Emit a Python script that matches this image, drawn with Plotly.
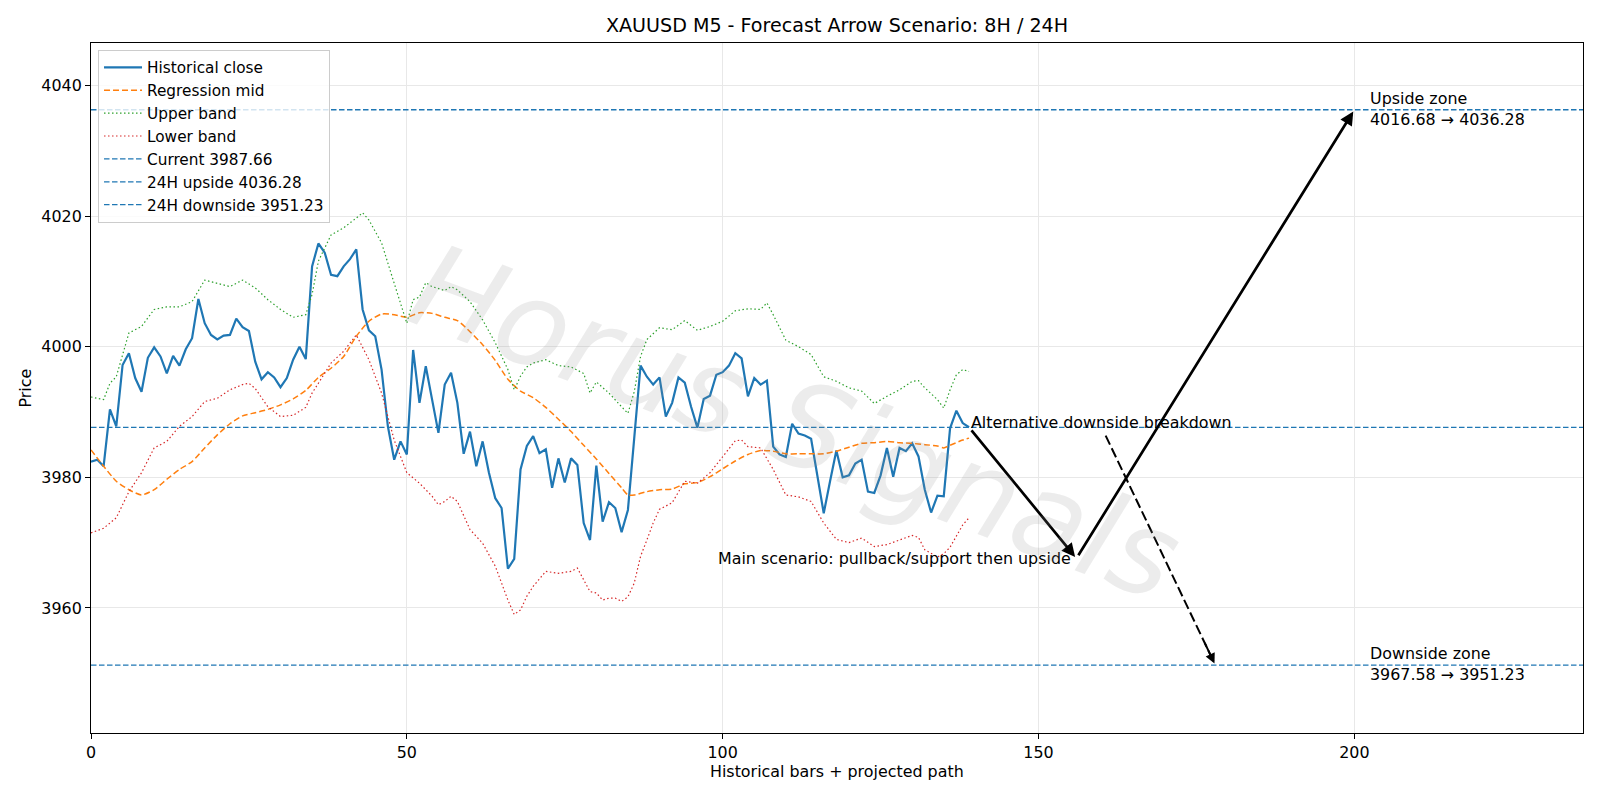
import plotly.graph_objects as go

# ---------------- data ----------------
hist_close = [
    3982.4, 3982.7, 3981.7, 3990.4, 3987.8, 3997.2, 3999.0, 3995.2, 3993.1, 3998.3,
    3999.9, 3998.5, 3995.9, 3998.6, 3997.1, 3999.6, 4001.3, 4007.3, 4003.6, 4001.8,
    4001.1, 4001.7, 4001.8, 4004.3, 4003.0, 4002.4, 3997.7, 3995.0, 3996.1, 3995.3,
    3993.8, 3995.2, 3998.0, 4000.0, 3998.1, 4012.3, 4015.8, 4014.4, 4011.0, 4010.8,
    4012.3, 4013.4, 4014.9, 4005.7, 4002.5, 4001.6, 3996.5, 3987.8, 3982.7, 3985.5,
    3983.5, 3999.5, 3991.4, 3997.0, 3991.9, 3986.8, 3994.2, 3996.0, 3991.4, 3983.6,
    3987.0, 3981.7, 3985.5, 3980.7, 3976.8, 3975.3, 3966.0, 3967.5, 3981.2, 3984.8,
    3986.3, 3983.7, 3984.3, 3978.4, 3982.9, 3979.2, 3982.9, 3981.9, 3973.0, 3970.4,
    3981.8, 3973.2, 3976.2, 3975.3, 3971.6, 3975.0, 3986.0, 3997.1, 3995.4, 3994.2,
    3995.3, 3989.3, 3991.4, 3995.3, 3994.5, 3990.8, 3987.6, 3992.0, 3992.5, 3995.7,
    3996.1, 3997.1, 3999.0, 3998.2, 3992.4, 3995.2, 3994.2, 3994.8, 3984.7, 3983.5,
    3983.1, 3988.2, 3986.7, 3986.4, 3985.9, 3980.1, 3974.5, 3979.4, 3984.1, 3980.0,
    3980.3, 3982.1, 3982.7, 3977.8, 3977.6, 3980.3, 3984.5, 3980.1, 3984.5, 3984.0,
    3985.2, 3983.2, 3978.1, 3974.6, 3977.2, 3977.1, 3987.5, 3990.2, 3988.3, 3987.66,
]
hist_x = list(range(len(hist_close)))

mid_x = [0, 2, 4, 6, 8, 10, 12, 14, 16, 18, 20, 22, 24, 26, 28, 30, 32, 34, 36, 38,
         40, 42, 44, 46, 48, 50, 52, 54, 56, 58, 60, 62, 64, 66, 68, 70, 72, 74, 76, 78,
         80, 82, 84, 85, 86, 88, 90, 92, 94, 96, 98, 100, 102, 104, 106, 108, 110, 112,
         114, 116, 118, 120, 122, 124, 126, 128, 130, 132, 134, 135, 136, 138, 139]
mid_y = [3984.2, 3981.7, 3979.4, 3978.1, 3977.3, 3978.1, 3979.7, 3981.2, 3982.4, 3984.5,
         3986.5, 3988.2, 3989.4, 3989.9, 3990.4, 3991.1, 3992.0, 3993.3, 3995.3, 3996.7,
         3998.5, 4001.6, 4003.9, 4005.0, 4004.9, 4004.5, 4005.2, 4005.1, 4004.5, 4004.0,
         4002.3, 4000.3, 3997.9, 3995.0, 3993.2, 3992.2, 3990.7, 3988.9, 3987.0, 3984.9,
         3982.8, 3980.6, 3978.4, 3977.3, 3977.3, 3977.8, 3978.1, 3978.2, 3979.0, 3979.2,
         3980.1, 3981.3, 3982.5, 3983.5, 3984.1, 3984.0, 3983.6, 3983.6,
         3983.6, 3983.6, 3984.0, 3984.6, 3985.2, 3985.3, 3985.5, 3985.3, 3985.2, 3985.0,
         3984.8, 3984.5, 3984.9, 3985.7, 3986.0]

upper_x = [0, 2, 3, 4, 6, 8, 10, 12, 14, 16, 18, 20, 22, 24, 26, 28, 30, 32, 34, 35,
           36, 38, 40, 42, 43, 44, 46, 48, 50, 51, 52, 53, 54, 56, 57, 58, 60, 62, 64, 66,
           67, 68, 69, 70, 72, 74, 76, 78, 79, 80, 82, 84, 85, 86, 87, 88, 90, 92, 94, 96,
           98, 100, 102, 104, 106, 107, 108, 110, 112, 114, 116, 118, 120, 122, 124, 126,
           128, 130, 131, 132, 134, 135, 136, 137, 138, 139]
upper_y = [3992.3, 3991.9, 3994.4, 3995.4, 4002.1, 4003.1, 4005.7, 4006.1, 4006.1, 4006.9,
           4010.2, 4009.7, 4009.2, 4010.2, 4009.0, 4007.2, 4005.7, 4004.5, 4004.9, 4008.0,
           4013.1, 4017.1, 4018.2, 4019.7, 4020.5, 4019.4, 4015.9, 4009.7, 4003.6, 4007.2,
           4007.6, 4009.8, 4009.2, 4008.6, 4009.2, 4008.7, 4006.9, 4004.1, 4000.6, 3996.5,
           3993.4, 3995.5, 3996.9, 3997.5, 3998.0, 3997.1, 3996.9, 3995.9, 3992.9, 3994.6,
           3992.9, 3990.8, 3989.8, 3993.1, 3998.5, 4001.1, 4002.9, 4002.6, 4004.0, 4002.5,
           4003.1, 4003.9, 4005.5, 4005.8, 4005.7, 4006.7, 4004.9, 4001.0, 4000.0, 3998.8,
           3995.4, 3994.7, 3993.7, 3993.2, 3991.3, 3992.4,
           3993.4, 3994.7, 3994.8, 3993.7, 3991.9, 3990.6, 3993.4, 3995.7, 3996.5, 3996.2]

lower_x = [0, 2, 4, 6, 8, 10, 12, 14, 16, 18, 20, 22, 24, 25, 26, 28, 30, 32, 34, 35,
           36, 38, 40, 42, 44, 46, 48, 50, 52, 54, 55, 56, 57, 58, 60, 62, 64, 66, 67, 68,
           69, 70, 72, 74, 76, 77, 78, 79, 80, 81, 82, 83, 84, 85, 86, 87, 88, 89, 90, 92,
           94, 96, 98, 100, 102, 103, 104, 106, 108, 110, 112, 114, 116, 118, 120, 122, 124,
           126, 128, 130, 131, 132, 134, 135, 136, 138, 139]
lower_y = [3971.5, 3972.2, 3973.8, 3977.8, 3980.7, 3984.5, 3985.5, 3987.8, 3989.3, 3991.6,
           3992.1, 3993.4, 3994.2, 3994.4, 3993.6, 3990.8, 3989.3, 3989.5, 3990.7, 3992.9,
           3994.4, 3997.5, 3999.3, 4001.8, 3998.0, 3992.9, 3985.7, 3980.7, 3979.1, 3977.1,
           3975.8, 3976.3, 3977.1, 3976.3, 3972.0, 3969.9, 3966.4, 3961.2, 3959.0, 3959.7,
           3961.8, 3963.3, 3965.6, 3965.3, 3965.6, 3966.1, 3964.3, 3962.5, 3962.3, 3961.2,
           3961.5, 3961.5, 3961.0, 3961.7, 3963.8, 3967.9, 3970.4, 3973.0, 3975.1, 3976.1,
           3979.4, 3979.1, 3980.7, 3983.2, 3985.6, 3985.7, 3984.7, 3984.5, 3981.2, 3977.3,
           3977.0, 3976.3, 3973.0, 3970.5, 3970.0, 3970.7, 3969.4,
           3969.7, 3970.4, 3971.1, 3970.8, 3968.9, 3967.8, 3968.3, 3969.3, 3972.7, 3973.8]

current_level = 3987.66
upside_level = 4036.28
downside_level = 3951.23
upside_zone = (4016.68, 4036.28)
downside_zone = (3967.58, 3951.23)

# projected scenario paths (bar index, price)
main_path_x = [139, 156, 200]
main_path_y = [3987.66, 3967.58, 4036.28]
alt_path_x = [160, 178]
alt_path_y = [3987.66, 3951.23]

X_RANGE = [0, 236.2]
Y_RANGE = [3940.85, 4046.5]
X_TICKS = [0, 50, 100, 150, 200]
Y_TICKS = [3960, 3980, 4000, 4020, 4040]

TITLE = "XAUUSD M5 - Forecast Arrow Scenario: 8H / 24H"
WATERMARK = "Horus Signals"

# ---------------- styling ----------------
FONT = "DejaVu Sans"
BLUE = "#1f77b4"
ORANGE = "#ff7f0e"
GREEN = "#2ca02c"
RED = "#d62728"
FS = 15.9

fig = go.Figure()

fig.add_trace(go.Scatter(x=hist_x, y=hist_close, mode="lines", name="Historical close",
                         line=dict(color=BLUE, width=2.2)))
fig.add_trace(go.Scatter(x=mid_x, y=mid_y, mode="lines", name="Regression mid",
                         line=dict(color=ORANGE, width=1.5, dash="6px,3px", shape="spline", smoothing=0.6)))
fig.add_trace(go.Scatter(x=upper_x, y=upper_y, mode="lines", name="Upper band",
                         line=dict(color=GREEN, width=1.2, dash="1.5px,2.5px")))
fig.add_trace(go.Scatter(x=lower_x, y=lower_y, mode="lines", name="Lower band",
                         line=dict(color=RED, width=1.2, dash="1.5px,2.5px")))
for lvl, nm in [(current_level, f"Current {current_level:.2f}"),
                (upside_level, f"24H upside {upside_level:.2f}"),
                (downside_level, f"24H downside {downside_level:.2f}")]:
    fig.add_trace(go.Scatter(x=X_RANGE, y=[lvl, lvl], mode="lines", name=nm,
                             line=dict(color=BLUE, width=1.3, dash="5.5px,2.5px")))

# dashed alternative path (line part)
ax0, ay0 = alt_path_x[0], alt_path_y[0]
ax1, ay1 = alt_path_x[1], alt_path_y[1]
f0, f1 = 0.035, 0.97
fig.add_trace(go.Scatter(
    x=[ax0 + f0 * (ax1 - ax0), ax0 + f1 * (ax1 - ax0)],
    y=[ay0 + f0 * (ay1 - ay0), ay0 + f1 * (ay1 - ay0)],
    mode="lines", showlegend=False, hoverinfo="skip",
    line=dict(color="black", width=2.0, dash="10px,4px")))

annotations = []
# main scenario arrows
for i in range(len(main_path_x) - 1):
    annotations.append(dict(
        x=main_path_x[i + 1], y=main_path_y[i + 1], ax=main_path_x[i], ay=main_path_y[i],
        xref="x", yref="y", axref="x", ayref="y", text="", showarrow=True,
        arrowhead=2, arrowsize=1.0, arrowwidth=2.7, arrowcolor="black",
        standoff=2, startstandoff=2))
# alternative arrow head
annotations.append(dict(
    x=ax1, y=ay1, ax=ax0 + 0.9 * (ax1 - ax0), ay=ay0 + 0.9 * (ay1 - ay0),
    xref="x", yref="y", axref="x", ayref="y", text="", showarrow=True,
    arrowhead=2, arrowsize=1.0, arrowwidth=2.0, arrowcolor="black", standoff=2))

# scenario texts
annotations.append(dict(x=155.4, y=main_path_y[1], xref="x", yref="y",
                        text="Main scenario: pullback/support then upside", showarrow=False,
                        xanchor="right", yanchor="middle", font=dict(size=FS, color="black", family=FONT)))
annotations.append(dict(x=main_path_x[0], y=3988.4, xref="x", yref="y",
                        text="Alternative downside breakdown", showarrow=False,
                        xanchor="left", yanchor="middle", font=dict(size=FS, color="black", family=FONT)))
annotations.append(dict(x=202.1, y=upside_level + 0.15, xref="x", yref="y",
                        text=f"Upside zone<br>{upside_zone[0]:.2f} → {upside_zone[1]:.2f}",
                        showarrow=False, xanchor="left", yanchor="middle", align="left",
                        font=dict(size=FS, color="black", family=FONT)))
annotations.append(dict(x=202.1, y=downside_level + 0.15, xref="x", yref="y",
                        text=f"Downside zone<br>{downside_zone[0]:.2f} → {downside_zone[1]:.2f}",
                        showarrow=False, xanchor="left", yanchor="middle", align="left",
                        font=dict(size=FS, color="black", family=FONT)))
# axis titles
annotations.append(dict(x=0.5, y=-0.0558, xref="paper", yref="paper",
                        text="Historical bars + projected path", showarrow=False,
                        xanchor="center", yanchor="middle", font=dict(size=FS, color="black", family=FONT)))
annotations.append(dict(x=-0.0445, y=0.5, xref="paper", yref="paper", text="Price",
                        textangle=-90, showarrow=False, xanchor="center", yanchor="middle",
                        font=dict(size=FS, color="black", family=FONT)))
# watermark
annotations.append(dict(x=111.5, y=3988.5, xref="x", yref="y", text=WATERMARK,
                        textangle=20.5, showarrow=False, xanchor="center", yanchor="middle",
                        font=dict(size=118, color="rgba(140,140,140,0.17)", family=FONT, style="italic")))

axis_common = dict(showline=True, linecolor="black", linewidth=1, mirror=True,
                   ticks="outside", ticklen=5, tickwidth=1, tickcolor="black",
                   showgrid=True, gridcolor="#e8e8e8", gridwidth=1, zeroline=False,
                   tickfont=dict(size=FS, color="black", family=FONT))

fig.update_layout(
    width=1600, height=800,
    margin=dict(l=91, r=17, t=43, b=67),
    paper_bgcolor="white", plot_bgcolor="white",
    font=dict(family=FONT, size=FS, color="black"),
    title=dict(text=TITLE, x=0.5, xref="paper", xanchor="center",
               y=1 - 25.5 / 800, yref="container", yanchor="middle",
               font=dict(size=19.1, color="black", family=FONT)),
    xaxis=dict(range=X_RANGE, tickvals=X_TICKS, **axis_common),
    yaxis=dict(range=Y_RANGE, tickvals=Y_TICKS, **axis_common),
    legend=dict(x=0.0047, y=0.99, xanchor="left", yanchor="top",
                bgcolor="rgba(255,255,255,0.8)", bordercolor="#cccccc", borderwidth=1,
                font=dict(size=15.3, color="black", family=FONT), itemwidth=38),
    annotations=annotations,
    showlegend=True,
)

fig.write_html("out.html")
